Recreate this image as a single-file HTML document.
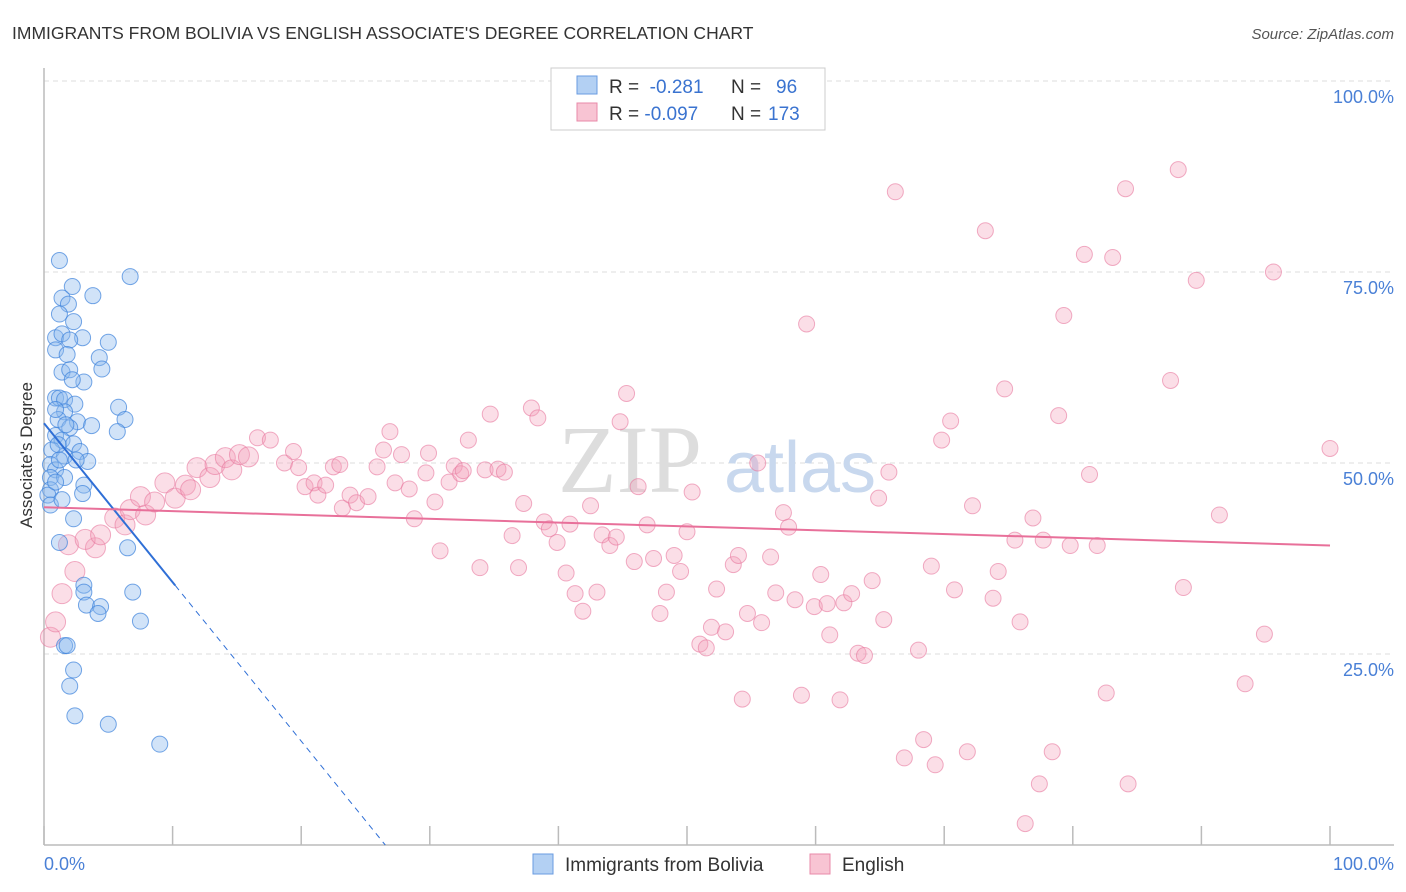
<!DOCTYPE html>
<html><head><meta charset="utf-8">
<style>
body{margin:0;background:#fff;font-family:"Liberation Sans",sans-serif;}
svg{display:block}
</style></head>
<body>
<svg id="chart" width="1406" height="892">
  <text x="12" y="39" font-size="17.5" fill="#333">IMMIGRANTS FROM BOLIVIA VS ENGLISH ASSOCIATE'S DEGREE CORRELATION CHART</text>
  <text x="1394" y="39" font-size="15" fill="#555" font-style="italic" text-anchor="end">Source: ZipAtlas.com</text>
  <g id="grid"></g>
  <text x="630" y="492" font-size="96" fill="#ddd" font-family="Liberation Serif,serif" text-anchor="middle">ZIP</text>
  <text x="800" y="492" font-size="72" fill="#c8d8ee" text-anchor="middle">atlas</text>
  <line x1="44" y1="68" x2="44" y2="845" stroke="#bbb" stroke-width="1.5"/>
  <line x1="44" y1="845" x2="1394" y2="845" stroke="#bbb" stroke-width="1.5"/>
  <g id="xticks"></g>
  <g id="ylabels"></g>
  <g id="pinkpts"></g>
  <g id="bluepts"></g>
  <g id="trends"></g>
  <text x="36" y="455" font-size="17" fill="#333" text-anchor="middle" transform="rotate(-90 36 455)" dy="-4">Associate's Degree</text>
  <text x="44" y="870" font-size="18" fill="#4a80d6">0.0%</text>
  <text x="1394" y="870" font-size="18" fill="#4a80d6" text-anchor="end">100.0%</text>
  <g>
    <rect x="551" y="68" width="274" height="62" fill="#fff" stroke="#ccc"/>
    <rect x="577" y="76" width="20" height="18" fill="#b3d0f3" stroke="#6a9be0"/>
    <rect x="577" y="103" width="20" height="18" fill="#f8c4d3" stroke="#e88aa8"/>
    <text x="609" y="93" font-size="19" fill="#333">R = <tspan fill="#3a73d0">&#160;-0.281</tspan><tspan x="731">N = </tspan><tspan x="776" fill="#3a73d0">96</tspan></text>
    <text x="609" y="120" font-size="19" fill="#333">R = <tspan fill="#3a73d0">-0.097</tspan><tspan x="731">N = </tspan><tspan x="768" fill="#3a73d0">173</tspan></text>
  </g>
  <g>
    <rect x="533" y="854" width="20" height="20" fill="#b3d0f3" stroke="#6a9be0"/>
    <text x="565" y="871" font-size="19" fill="#333">Immigrants from Bolivia</text>
    <rect x="810" y="854" width="20" height="20" fill="#f8c4d3" stroke="#e88aa8"/>
    <text x="842" y="871" font-size="19" fill="#333">English</text>
  </g>
</svg>
<script>
const yTicks=[25,50,75,100];
const yTickLabels=["25.0%","50.0%","75.0%","100.0%"];
const xTicks=[0,10,20,30,40,50,60,70,80,90,100];
const blueX=[1.2,6.7,2.2,3.8,1.4,1.9,1.2,2.3,0.9,1.4,3,2,5,0.9,1.8,4.3,4.5,1.4,2,3.1,2.2,0.9,1.2,1.6,2.4,5.8,1.6,6.3,1.1,2.6,3.7,2,5.7,0.9,1.4,2.3,0.6,2.8,1.6,3.4,0.5,0.9,0.5,1.6,3.1,0.5,0.3,3,0.5,2.3,6.5,1.2,3.1,3.1,6.9,3.3,4.4,4.2,7.5,1.6,1.8,2.3,2,2.4,5,9,0.9,1.7,1.1,1.2,0.9,1.4,2.5];
const blueY=[76.5,74.4,73.1,71.9,71.6,70.8,69.5,68.5,66.4,66.9,66.4,66.1,65.8,64.8,64.2,63.8,62.3,61.9,62.2,60.6,60.9,58.5,58.5,58.3,57.7,57.3,56.7,55.7,55.7,55.4,54.9,54.6,54.1,53.6,53,52.5,51.7,51.5,50.9,50.2,49.8,49.1,48.1,48.1,47.1,46.5,45.8,46,44.5,42.7,38.9,39.6,34,33.1,33.1,31.4,31.2,30.3,29.3,26.1,26.1,22.9,20.8,16.9,15.8,13.2,57,55,52.4,50.4,47.5,45.2,50.4];
const pinkX=[0.5,0.9,1.4,2.4,1.9,4,3.2,4.4,5.5,6.3,6.7,7.9,7.5,8.6,9.4,10.2,11,11.4,11.9,12.9,13.3,14.1,14.6,15.2,15.9,16.6,17.6,18.7,19.4,19.8,20.3,21,21.3,21.9,22.5,23,23.2,23.8,24.3,25.2,25.9,26.4,26.9,27.3,27.8,28.4,28.8,29.7,29.9,30.4,30.8,31.5,31.9,32.4,32.6,33,33.9,34.7,34.3,35.3,35.8,36.4,36.9,37.3,37.9,38.4,38.9,39.3,39.9,40.6,40.9,41.3,41.9,42.5,43,43.4,44,44.5,44.8,45.3,45.9,46.2,46.9,47.4,47.9,48.4,49,49.5,50,50.4,51,51.5,51.9,52.3,53,53.6,54,54.3,54.7,55.5,55.8,56.5,56.9,57.5,57.9,58.4,58.9,59.3,59.9,60.4,60.9,61.1,61.9,62.2,62.8,63.3,63.8,64.4,64.9,65.3,65.7,66.2,66.9,68,68.4,69,69.3,69.8,70.5,70.8,71.8,72.2,73.2,73.8,74.2,74.7,75.5,75.9,76.3,76.9,77.4,77.7,78.4,78.9,79.3,79.8,80.9,81.3,81.9,82.6,83.1,84.1,84.3,87.6,88.2,88.6,89.6,91.4,93.4,94.9,95.6,100];
const pinkY=[27.2,29.2,32.9,35.8,39.3,38.9,40,40.6,42.8,41.9,43.9,43.2,45.6,44.9,47.4,45.4,47.1,46.5,49.4,48.1,49.8,50.7,49.1,51.1,50.8,53.3,53,50,51.5,49.4,46.9,47.4,45.8,47.1,49.5,49.8,44.1,45.8,44.8,45.6,49.5,51.7,54.1,47.4,51.1,46.6,42.7,48.7,51.3,44.9,38.5,47.5,49.6,48.6,49,53,36.3,56.4,49.1,49.2,48.8,40.5,36.3,44.7,57.2,55.9,42.3,41.4,39.6,35.6,42,32.9,30.6,44.4,33.1,40.6,39.2,40.3,55.4,59.1,37.1,46.9,41.9,37.5,30.3,33.1,37.9,35.8,41,46.2,26.3,25.8,28.5,33.5,27.9,36.7,37.9,19.1,30.3,50,29.1,37.7,33,43.5,41.6,32.1,19.6,68.2,31.2,35.4,31.6,27.5,19,31.7,32.9,25.1,24.8,34.6,45.4,29.5,48.8,85.5,11.4,25.5,13.8,36.5,10.5,53,55.5,33.4,12.2,44.4,80.4,32.3,35.8,59.7,39.9,29.2,2.8,42.8,8,39.9,12.2,56.2,69.3,39.2,77.3,48.5,39.2,19.9,76.9,85.9,8,60.8,88.4,33.7,73.9,43.2,21.1,27.6,75,51.9];
const blueTrend=[55.2,-2.08]; // intercept, slope
const blueSolidEnd=10.2;
const pinkTrend=[44.2,-0.05];

const X0=44,X1=1330,Y0=845,Y100=81;
const sx=v=>X0+(X1-X0)*v/100;
const sy=v=>Y0-(Y0-Y100)*v/100;
const NS="http://www.w3.org/2000/svg";
function mk(tag,attrs,parent){const e=document.createElementNS(NS,tag);for(const k in attrs)e.setAttribute(k,attrs[k]);parent.appendChild(e);return e;}
const grid=document.getElementById('grid');
yTicks.forEach((t,i)=>{
  const l=mk('line',{x1:44,x2:1394,y1:sy(t),y2:sy(t),stroke:'#ddd','stroke-dasharray':'5,4'},grid);
  
  
  const tx=mk('text',{x:1394,y:sy(t)+22,'font-size':18,fill:'#4a80d6','text-anchor':'end'},document.getElementById('ylabels'));
  tx.textContent=yTickLabels[i];
  
  
});
xTicks.forEach(t=>{
  const l=mk('line',{x1:sx(t),x2:sx(t),y1:826,y2:845,stroke:'#bbb','stroke-width':1.5},document.getElementById('xticks'));
  
  
});
const pg=document.getElementById('pinkpts');
pinkX.forEach((x,i)=>{
  const r=x<16?10:8;
  const c=mk('circle',{cx:sx(x),cy:sy(pinkY[i]),r:r,fill:'rgba(243,160,187,0.35)',stroke:'rgba(232,120,158,0.6)','stroke-width':1},pg);
  
  
});
const bg=document.getElementById('bluepts');
blueX.forEach((x,i)=>{
  const c=mk('circle',{cx:sx(x),cy:sy(blueY[i]),r:8,fill:'rgba(140,185,238,0.4)',stroke:'rgba(60,130,220,0.7)','stroke-width':1},bg);
  
  
});
const tg=document.getElementById('trends');
const bAt=x=>blueTrend[0]+blueTrend[1]*x;
const bZero=-blueTrend[0]/blueTrend[1];
const l1=mk('line',{x1:sx(0),y1:sy(bAt(0)),x2:sx(blueSolidEnd),y2:sy(bAt(blueSolidEnd)),stroke:'#2f6fd6','stroke-width':2},tg);


const l2=mk('line',{x1:sx(blueSolidEnd),y1:sy(bAt(blueSolidEnd)),x2:sx(bZero),y2:sy(0),stroke:'#2f6fd6','stroke-width':1,'stroke-dasharray':'6,5'},tg);


const l3=mk('line',{x1:sx(0),y1:sy(pinkTrend[0]),x2:sx(100),y2:sy(pinkTrend[0]+pinkTrend[1]*100),stroke:'#e8709a','stroke-width':2},tg);


</script>
</body></html>
